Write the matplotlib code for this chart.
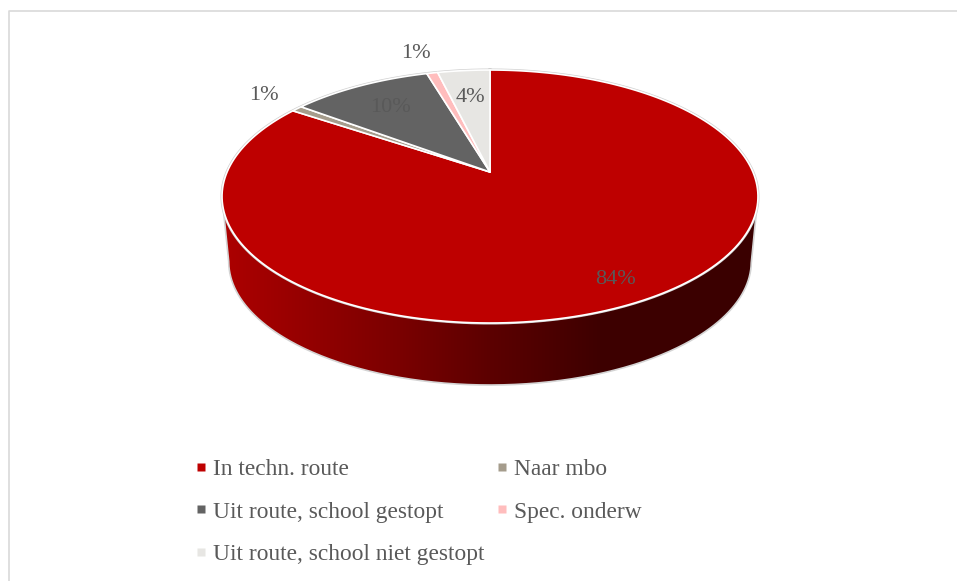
import numpy as np
import matplotlib
matplotlib.use("Agg")
import matplotlib.pyplot as plt
from matplotlib.lines import Line2D
from matplotlib.patches import Polygon

labels = ["In techn. route", "Naar mbo", "Uit route, school gestopt", "Spec. onderw", "Uit route, school niet gestopt"]
values = [84.4, 0.8, 10.2, 0.8, 3.8]
value_text = ["84%", "1%", "10%", "1%", "4%"]
colors = ["#BE0000", "#A59C8C", "#636363", "#FFBDBD", "#E7E6E3"]
label_pos = [(615, 280), (264, 96), (390, 107), (416, 53), (470, 98)]

TEXT = "#595959"
FONT = "Liberation Serif"

# pie is tilted, so the apex is not at the middle of the ellipse
CX, CY = 490, 172
A, B, C = 121.75, 262.9, 0.1937
DEPTH = 65.8
BOTTOM_SCALE = 0.975


def rim(theta):
    # theta is clockwise from 12 o'clock, in radians
    u, v = np.sin(theta), np.cos(theta)
    w = 1 + C * v
    return CX + B * u / w, CY - A * v / w


def rim_bottom(theta):
    x, y = rim(theta)
    return CX + BOTTOM_SCALE * (x - CX), CY + BOTTOM_SCALE * (y - CY) + DEPTH


fig = plt.figure(figsize=(9.57, 5.81), dpi=100)
ax = fig.add_axes([0, 0, 1, 1])

# chart frame, right and bottom sides fall outside the crop
ax.plot([8.5, 8.5, 960], [590, 10.5, 10.5], color="#D9D9D9", lw=1.2, zorder=1)

# side wall, between the widest points of the two rims, dark to the right
side = np.arccos(-C)
t = np.linspace(side, 2 * np.pi - side, 300)
xt, yt = rim(t)
xb, yb = rim_bottom(t)
wall = Polygon(np.c_[np.r_[xt, xb[::-1]], np.r_[yt, yb[::-1]]], closed=True, transform=ax.transData, fc="none", ec="none")
ax.add_patch(wall)
gx = np.arange(215, 766)
red = np.interp(gx, [225, 400, 490, 600, 760], [172, 122, 92, 62, 58]) / 255
shade = np.zeros((1, len(gx), 3))
shade[0, :, 0] = red
im = ax.imshow(shade, extent=(215, 766, 400, 180), aspect="auto", zorder=2, interpolation="bilinear")
im.set_clip_path(wall)
ax.plot(np.r_[xt[0], xb, xt[-1]], np.r_[yt[0], yb, yt[-1]], color="#D4D4D4", lw=1.2, zorder=2.5)

# top of the pie
tt = np.radians(np.linspace(0, 360, 500))
xr, yr = rim(tt)
ax.plot(xr, yr, color="#D0D0D0", lw=2.2, zorder=2.6)

edges = np.radians(np.cumsum([0] + values) / sum(values) * 360)
for i in range(len(values)):
    th = np.linspace(edges[i], edges[i + 1], 200)
    x, y = rim(th)
    ax.fill(np.r_[CX, x], np.r_[CY, y], facecolor=colors[i], edgecolor="white", lw=1.2, zorder=3, joinstyle="round")

for txt, (x, y) in zip(value_text, label_pos):
    ax.text(x, y, txt, color=TEXT, family=FONT, fontsize=16, ha="center", va="center", zorder=5)

ax.set_xlim(0, 957)
ax.set_ylim(581, 0)
ax.axis("off")

# legend fills column by column
order = [0, 2, 4, 1, 3]
handles = [Line2D([], [], ls="", marker="s", ms=5.6, color=colors[i], mec="none") for i in order]
ax.legend(
    handles,
    [labels[i] for i in order],
    ncol=2,
    frameon=False,
    loc="upper left",
    bbox_to_anchor=(194 / 957, 1 - 459 / 581),
    borderaxespad=0,
    borderpad=0,
    prop={"family": FONT, "size": 16.8},
    labelcolor=TEXT,
    labelspacing=0.9,
    handlelength=0.6,
    handletextpad=0.22,
    columnspacing=0.44,
)

fig.savefig("out.png", dpi=100)
